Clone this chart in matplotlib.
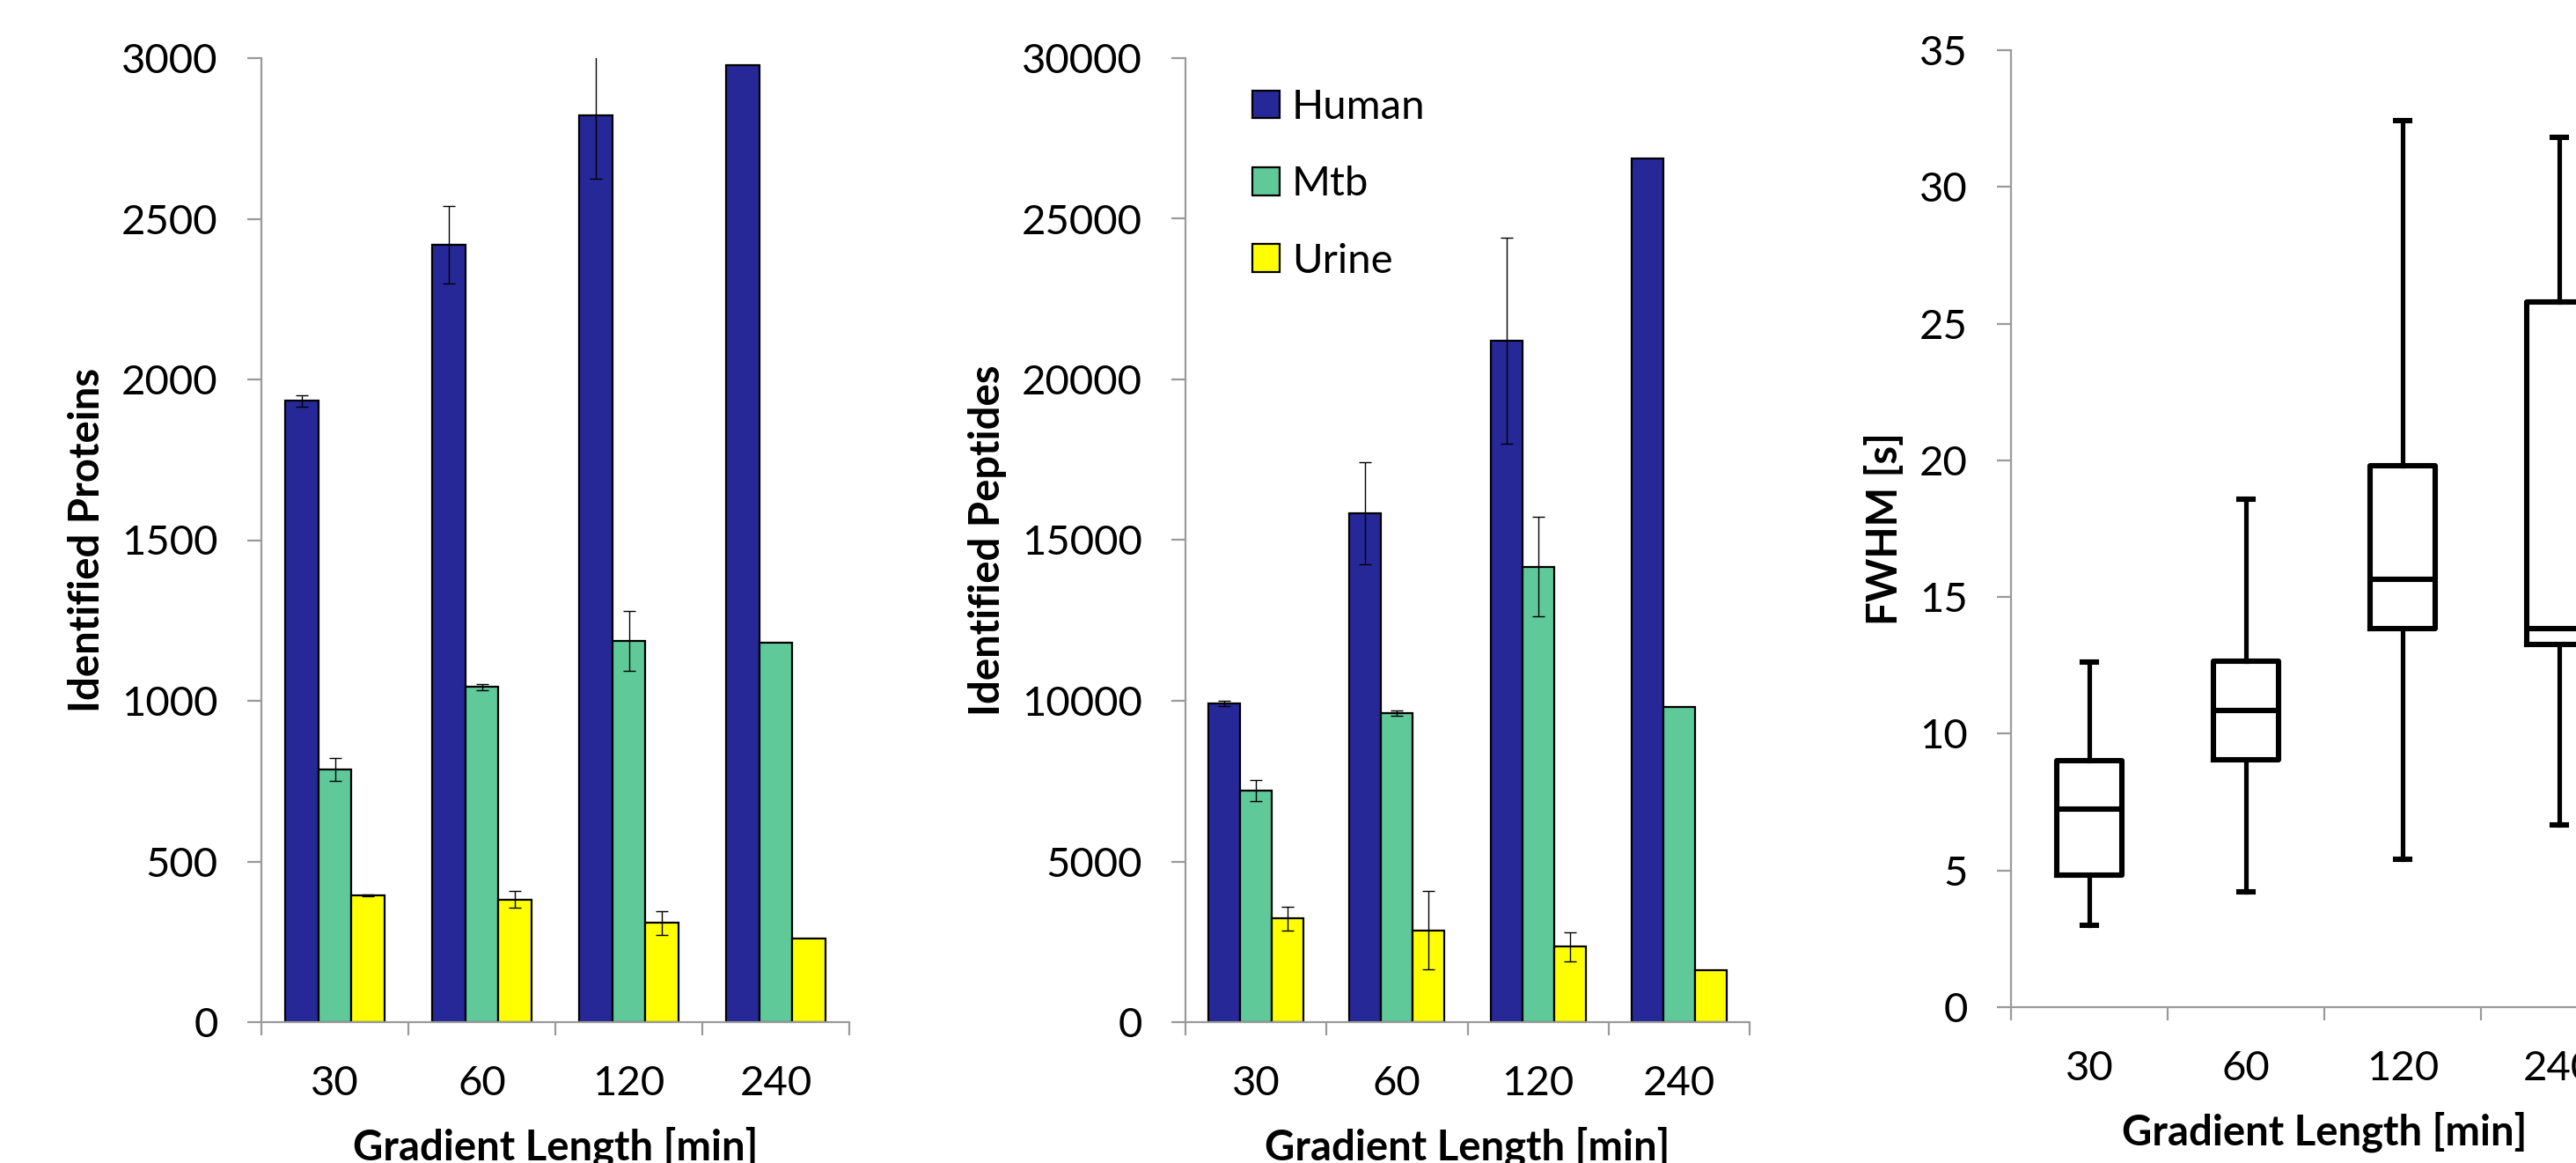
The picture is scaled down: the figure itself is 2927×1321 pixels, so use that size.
# -*- coding: utf-8 -*-
# Identified proteins / peptides per gradient length + FWHM box plot

import numpy as np
import matplotlib
matplotlib.use('Agg')
import matplotlib.pyplot as plt
from matplotlib.ticker import FixedLocator, MultipleLocator


#%% Data

gradients = ['30', '60', '120', '240']
samples = ['Human', 'Mtb', 'Urine']

proteins_human = [1934, 2419, 2822, 2977]
proteins_mtb = [787, 1043, 1186, 1182]
proteins_urine = [395, 381, 309, 261]
proteins_human_err = [18, 120, 198, 0]
proteins_mtb_err = [36, 10, 94, 0]
proteins_urine_err = [3, 26, 37, 0]

peptides_human = [9923, 15831, 21208, 26885]
peptides_mtb = [7200, 9623, 14170, 9808]
peptides_urine = [3231, 2862, 2354, 1615]
peptides_human_err = [80, 1580, 3200, 0]
peptides_mtb_err = [330, 80, 1550, 0]
peptides_urine_err = [370, 1220, 450, 0]

fwhm_whislo = [3.01, 4.23, 5.42, 6.66]
fwhm_q1 = [4.82, 9.05, 13.84, 13.25]
fwhm_med = [7.23, 10.84, 15.66, 13.84]
fwhm_q3 = [9.02, 12.65, 19.80, 25.79]
fwhm_whishi = [12.63, 18.59, 32.43, 31.81]

colors = ['#262897', '#5FC99A', '#FFFF00']

#%% Style

plt.rcParams['font.family'] = ['Lato', 'DejaVu Sans']
FS = 34
LEG_FS = 34
AXIS_GREY = '#9a9a9a'
DPI = 100
W, H = 2927, 1321


def _style_axes(ax, ylim, ystep):
    '''Excel-like axes: grey left/bottom spines, ticks at category borders.'''
    for s in ['top', 'right']:
        ax.spines[s].set_visible(False)
    for s in ['left', 'bottom']:
        ax.spines[s].set_color(AXIS_GREY)
        ax.spines[s].set_linewidth(1.6)
    n = len(gradients)
    ax.set_xlim(-0.5, n - 0.5)
    ax.set_ylim(ylim)
    ax.yaxis.set_major_locator(MultipleLocator(ystep))
    ax.set_xticks(range(n))
    ax.set_xticklabels(gradients)
    ax.xaxis.set_minor_locator(FixedLocator(np.arange(n + 1) - 0.5))
    ax.tick_params(axis='y', direction='out', length=11.5, width=1.6,
                   color=AXIS_GREY, pad=24, labelsize=FS)
    ax.tick_params(axis='x', which='major', length=0, pad=35, labelsize=FS)
    ax.tick_params(axis='x', which='minor', direction='out', length=11,
                   width=1.6, color=AXIS_GREY)
    ax.set_xlabel('Gradient Length [min]', fontsize=FS, fontweight='bold',
                  labelpad=20)


def _bar_panel(ax, values, errors, ylim, ystep, ylabel):
    x = np.arange(len(gradients))
    width = 0.225
    for i, (vals, errs) in enumerate(zip(values, errors)):
        errs = np.array(errs, dtype=float)
        yerr = np.where(errs > 0, errs, np.nan)
        ax.bar(x + (i - 1) * width, vals, width, color=colors[i],
               edgecolor='black', linewidth=1.6, label=samples[i], zorder=2)
        ax.errorbar(x + (i - 1) * width, vals, yerr=yerr, fmt='none',
                    ecolor='black', elinewidth=1.0, capsize=5,
                    capthick=1.0, zorder=3)
    _style_axes(ax, ylim, ystep)
    ax.set_ylabel(ylabel, fontsize=FS, fontweight='bold', labelpad=12)


#%% Figure

fig = plt.figure(figsize=(W / DPI, H / DPI), dpi=DPI)

ax1 = fig.add_axes([297 / W, 160 / H, 668 / W, 1095 / H])
_bar_panel(ax1, [proteins_human, proteins_mtb, proteins_urine],
           [proteins_human_err, proteins_mtb_err, proteins_urine_err],
           (0, 3000), 500, 'Identified Proteins')

ax2 = fig.add_axes([1347 / W, 160 / H, 641 / W, 1095 / H])
_bar_panel(ax2, [peptides_human, peptides_mtb, peptides_urine],
           [peptides_human_err, peptides_mtb_err, peptides_urine_err],
           (0, 30000), 5000, 'Identified Peptides')
ax2.legend(loc='upper left', bbox_to_anchor=(0.118, 0.968), frameon=False,
           fontsize=LEG_FS, handlelength=0.66, handleheight=0.66,
           handletextpad=0.3, labelspacing=0.96, borderpad=0,
           borderaxespad=0)

# FWHM box plot (extends beyond the right edge of the figure)
ax3 = fig.add_axes([2285 / W, 177 / H, 712 / W, 1087 / H])
stats = []
for i in range(len(gradients)):
    stats.append({'whislo': fwhm_whislo[i], 'q1': fwhm_q1[i],
                  'med': fwhm_med[i], 'q3': fwhm_q3[i],
                  'whishi': fwhm_whishi[i], 'fliers': []})
lw = 4.4
ax3.bxp(stats, positions=np.arange(len(gradients)), widths=0.415,
        capwidths=0.085, showfliers=False,
        boxprops=dict(color='black', linewidth=lw),
        medianprops=dict(color='black', linewidth=lw),
        whiskerprops=dict(color='black', linewidth=lw * 0.85),
        capprops=dict(color='black', linewidth=lw))
_style_axes(ax3, (0, 35), 5)
ax3.set_ylabel('FWHM [s]', fontsize=FS, fontweight='bold', labelpad=12)

fig.savefig('out.png', dpi=DPI)
